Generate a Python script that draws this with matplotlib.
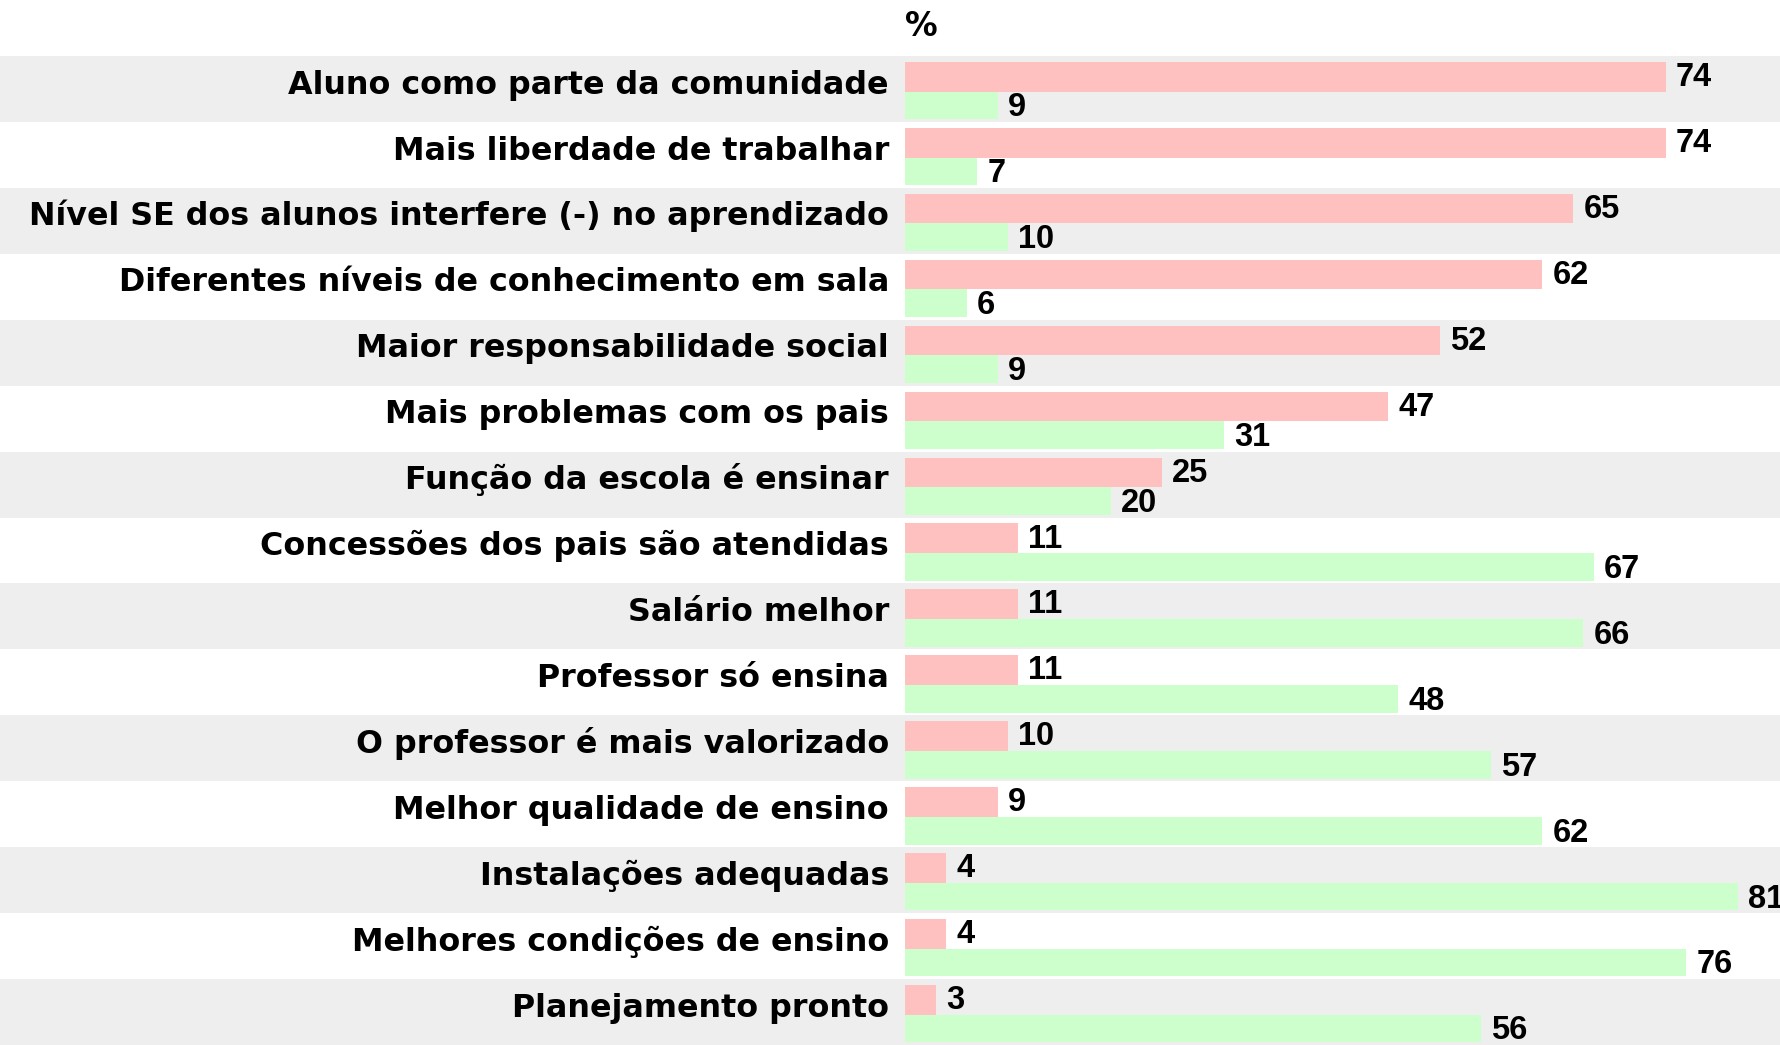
import matplotlib
matplotlib.use("Agg")
import matplotlib.pyplot as plt

# ==================== data ====================
categories = [
    "Aluno como parte da comunidade",
    "Mais liberdade de trabalhar",
    "Nível SE dos alunos interfere (-) no aprendizado",
    "Diferentes níveis de conhecimento em sala",
    "Maior responsabilidade social",
    "Mais problemas com os pais",
    "Função da escola é ensinar",
    "Concessões dos pais são atendidas",
    "Salário melhor",
    "Professor só ensina",
    "O professor é mais valorizado",
    "Melhor qualidade de ensino",
    "Instalações adequadas",
    "Melhores condições de ensino",
    "Planejamento pronto",
]
pink_vals = [74, 74, 65, 62, 52, 47, 25, 11, 11, 11, 10, 9, 4, 4, 3]
green_vals = [9, 7, 10, 6, 9, 31, 20, 67, 66, 48, 57, 62, 81, 76, 56]

PINK = "#ffc0c0"
GREEN = "#ccffcc"
BAND = "#eeeeee"

W, H = 1781, 1045
fig = plt.figure(figsize=(W / 100, H / 100), dpi=100)
top_px = 56
ax = fig.add_axes([0, 0, 1, (H - top_px) / H])

# x scale: bars start at pixel 905, ~10.28 px per percent
px_per_unit = 10.28
x0_px = 905
ax.set_xlim(-x0_px / px_per_unit, (W - x0_px) / px_per_unit)
n = len(categories)
ax.set_ylim(n, 0)
ax.axis("off")

for i, (cat, pv, gv) in enumerate(zip(categories, pink_vals, green_vals)):
    if i % 2 == 0:
        ax.axhspan(i, i + 1, color=BAND, lw=0, zorder=0)
    # pink bar on top, green below
    ax.barh(i + 0.315, pv, height=0.45, left=0, color=PINK, lw=0, zorder=2)
    ax.barh(i + 0.75, gv, height=0.42, left=0, color=GREEN, lw=0, zorder=2)
    ax.text(pv + 1.0, i + 0.315 + 0.14, str(pv), ha="left", va="baseline",
            fontsize=23.5, fontweight="bold", family="Liberation Sans", zorder=3)
    ax.text(gv + 1.0, i + 0.75 + 0.165, str(gv), ha="left", va="baseline",
            fontsize=23.5, fontweight="bold", family="Liberation Sans", zorder=3)
    ax.text(-1.56, i + 0.57, cat, ha="right", va="baseline",
            fontsize=22.9, fontweight="bold", family="DejaVu Sans", zorder=3)

# "%" header above the bars
fig.text(x0_px / W, 1 - 36 / H, "%", ha="left", va="baseline",
         fontsize=23.5, fontweight="bold", family="DejaVu Sans")

fig.savefig("out.png", dpi=100)
